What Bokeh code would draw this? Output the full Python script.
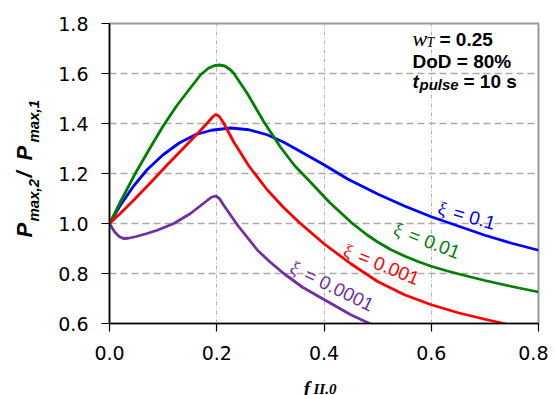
import math
from bokeh.plotting import figure
from bokeh.layouts import row, column
from bokeh.models import Label, FixedTicker, NumeralTickFormatter, Range1d
from bokeh.embed import file_html
from bokeh.resources import INLINE
from bokeh.core.properties import value

# ---------------- data ----------------
x_ticks = [0.0, 0.2, 0.4, 0.6, 0.8]
y_ticks = [0.6, 0.8, 1.0, 1.2, 1.4, 1.6, 1.8]

# xi = 0.1 (blue)
x_xi1 = [0, 0.02, 0.045, 0.07, 0.1, 0.13, 0.16, 0.19, 0.226, 0.26, 0.294, 0.325,
         0.356, 0.4, 0.444, 0.5, 0.55, 0.6, 0.65, 0.7, 0.75, 0.8]
y_xi1 = [1.0, 1.072, 1.15, 1.215, 1.275, 1.322, 1.355, 1.373, 1.382, 1.375, 1.355, 1.325,
         1.288, 1.235, 1.178, 1.118, 1.07, 1.027, 0.99, 0.953, 0.921, 0.893]

# xi = 0.01 (green)
x_xi2 = [0, 0.02, 0.048, 0.075, 0.1, 0.125, 0.15, 0.17, 0.185, 0.195, 0.205, 0.215, 0.226,
         0.232, 0.257, 0.288, 0.319, 0.345, 0.375, 0.41, 0.453, 0.48, 0.5, 0.525, 0.55,
         0.575, 0.6, 0.63, 0.655, 0.7, 0.75, 0.8]
y_xi2 = [1.0, 1.085, 1.2, 1.3, 1.39, 1.47, 1.54, 1.595, 1.622, 1.631, 1.634, 1.63, 1.614,
         1.6, 1.52, 1.406, 1.305, 1.232, 1.165, 1.085, 1.0, 0.955, 0.926, 0.895, 0.87,
         0.848, 0.829, 0.81, 0.796, 0.772, 0.748, 0.726]

# xi = 0.001 (red)
x_xi3 = [0, 0.02, 0.045, 0.076, 0.107, 0.14, 0.17, 0.185, 0.193, 0.198, 0.204, 0.212, 0.232,
         0.26, 0.294, 0.325, 0.356, 0.4, 0.45, 0.5, 0.55, 0.6, 0.65, 0.7, 0.74]
y_xi3 = [1.0, 1.04, 1.093, 1.162, 1.233, 1.306, 1.373, 1.408, 1.428, 1.436, 1.43, 1.405, 1.325,
         1.23, 1.135, 1.063, 1.0, 0.919, 0.839, 0.768, 0.715, 0.675, 0.643, 0.617, 0.598]

# xi = 0.0001 (purple)
x_xi4 = [0, 0.005, 0.01, 0.018, 0.026, 0.035, 0.05, 0.07, 0.089, 0.12, 0.151, 0.175, 0.19,
         0.198, 0.205, 0.213, 0.24, 0.276, 0.3, 0.325, 0.36, 0.413, 0.45, 0.49]
y_xi4 = [1.0, 0.982, 0.965, 0.948, 0.94, 0.941, 0.948, 0.96, 0.973, 1.0, 1.04, 1.08, 1.105,
         1.11, 1.10, 1.073, 0.99, 0.893, 0.845, 0.80, 0.745, 0.68, 0.635, 0.595]

series_labels = ["0.1", "0.01", "0.001", "0.0001"]
series_colors = ["#0000ff", "#008000", "#ff0000", "#7030a0"]
# label anchor (data coords) and rotation in degrees (clockwise)
label_x = [0.6135, 0.5315, 0.438, 0.339]
label_y = [1.064, 0.981, 0.896, 0.829]
label_rot = [16, 21, 22, 26]

# ---------------- layout constants ----------------
H = 395
S = 50                      # strip holding the vertical axis title
BH = 28                     # strip holding the horizontal axis title
ML, MR, MT = 59, 10, 23
FW, FH = 429, 300
HM = H - BH                 # main figure height
MB = HM - MT - FH
W = ML + FW + MR

p = figure(width=W, height=HM, x_range=Range1d(0, 0.8), y_range=Range1d(0.6, 1.8),
           output_backend="svg", toolbar_location=None,
           min_border_left=ML, min_border_right=MR, min_border_top=MT, min_border_bottom=MB)
p.background_fill_color = "white"
p.border_fill_color = "white"
p.outline_line_color = "#999999"
p.outline_line_width = 2

for ax in (p.xaxis[0], p.yaxis[0]):
    ax.axis_line_color = "black"
    ax.axis_line_width = 1.6
    ax.major_tick_line_color = "black"
    ax.major_tick_line_width = 1.2
    ax.major_tick_out = 8
    ax.major_tick_in = 0
    ax.minor_tick_line_color = None
    ax.major_label_text_font = "DejaVu Sans"
    ax.major_label_text_font_size = "19px"
    ax.major_label_text_color = "black"
    ax.formatter = NumeralTickFormatter(format="0.0")
p.xaxis[0].ticker = FixedTicker(ticks=x_ticks)
p.yaxis[0].ticker = FixedTicker(ticks=y_ticks)
p.xaxis[0].major_label_standoff = 14
p.yaxis[0].major_label_standoff = 13

p.xgrid.ticker = FixedTicker(ticks=x_ticks)
p.ygrid.ticker = FixedTicker(ticks=y_ticks)
p.xgrid.grid_line_color = "#b4b4b4"
p.xgrid.grid_line_dash = "4 2 1 2"
p.xgrid.grid_line_width = 1
p.ygrid.grid_line_color = "#aaaaaa"
p.ygrid.grid_line_dash = "7 4"
p.ygrid.grid_line_width = 1.3

xs = [x_xi1, x_xi2, x_xi3, x_xi4]
ys = [y_xi1, y_xi2, y_xi3, y_xi4]
for xx, yy, c in zip(xs, ys, series_colors):
    p.line(xx, yy, line_color=c, line_width=2.8, line_join="round")

# curve labels: serif xi + sans rest
PXU = FW / 0.8
PYU = FH / 1.2
FS = 19
XI_W = 16.0
for lab, c, lx, ly, rot in zip(series_labels, series_colors, label_x, label_y, label_rot):
    th = math.radians(rot)
    p.text([lx], [ly], text=["\u03be"], angle=-th, text_color=c,
           text_font=value("Liberation Serif"), text_font_size=f"{FS}px",
           text_align="left", text_baseline="alphabetic")
    dx = XI_W * math.cos(th) / PXU
    dy = -XI_W * math.sin(th) / PYU
    p.text([lx + dx], [ly + dy], text=["= " + lab], angle=-th, text_color=c,
           text_font=value("Liberation Sans"), text_font_size=f"{FS}px",
           text_align="left", text_baseline="alphabetic")

# screen-positioned labels in the main figure (given in page coordinates)
FL = S + ML
FB = MT + FH


def put(txt, px, py, size, font="Liberation Sans", style="bold"):
    p.add_layout(Label(x=px - FL, y=FB - py, x_units="screen", y_units="screen",
                       text=txt, text_font=font, text_font_size=f"{size}px",
                       text_font_style=style, text_color="black",
                       text_align="left", text_baseline="alphabetic"))


# annotation block
put("w", 412, 38, 22, font="Liberation Serif", style="italic")
put("T", 426, 42, 14, font="Liberation Serif", style="italic")
put("= 0.25", 439, 39, 19)
put("DoD = 80%", 412, 61, 19)
put("t", 412, 81, 19, style="bold italic")
put("pulse", 419, 84, 15, style="bold italic")
put("= 10 s", 463, 81, 19)

# ---------------- vertical axis title strip ----------------
side = figure(width=S, height=H, x_range=Range1d(0, S), y_range=Range1d(H - MT - FH, H - MT),
              output_backend="svg", toolbar_location=None,
              min_border_left=0, min_border_right=0, min_border_top=MT,
              min_border_bottom=H - MT - FH,
              x_axis_location=None, y_axis_location=None, title_location=None)
side.outline_line_color = None
side.background_fill_color = "white"
side.border_fill_color = "white"
for g in side.grid:
    g.visible = False

ylab_text = ["P", "max,2", "/", "P", "max,1"]
ylab_px = [24, 33, 24, 24, 33]
ylab_py = [237, 221, 177, 160, 142]
ylab_size = [22, 15, 22, 22, 15]
for t, px, py, fs in zip(ylab_text, ylab_px, ylab_py, ylab_size):
    side.text([px], [H - py], text=[t], angle=math.pi / 2, text_color="black",
              text_font=value("Liberation Sans"), text_font_style="bold italic",
              text_font_size=f"{fs}px", text_align="left", text_baseline="alphabetic")

# ---------------- horizontal axis title strip ----------------
bottom = figure(width=W, height=BH, x_range=p.x_range, y_range=Range1d(0, BH),
                output_backend="svg", toolbar_location=None,
                min_border_left=ML, min_border_right=MR, min_border_top=0, min_border_bottom=0,
                x_axis_location=None, y_axis_location=None, title_location=None)
bottom.outline_line_color = None
bottom.background_fill_color = "white"
bottom.border_fill_color = "white"
for g in bottom.grid:
    g.visible = False

xlab_text = ["f", "II.0"]
xlab_px = [303, 313]
xlab_py = [388, 388]
xlab_size = [20, 15]
for t, px, py, fs in zip(xlab_text, xlab_px, xlab_py, xlab_size):
    bottom.text([(px - FL) / PXU], [H - py], text=[t], text_color="black",
                text_font=value("Liberation Serif"), text_font_style="bold italic",
                text_font_size=f"{fs}px", text_align="left", text_baseline="alphabetic")

layout = row(side, column(p, bottom))
open("out.html", "w").write(file_html(layout, INLINE))
